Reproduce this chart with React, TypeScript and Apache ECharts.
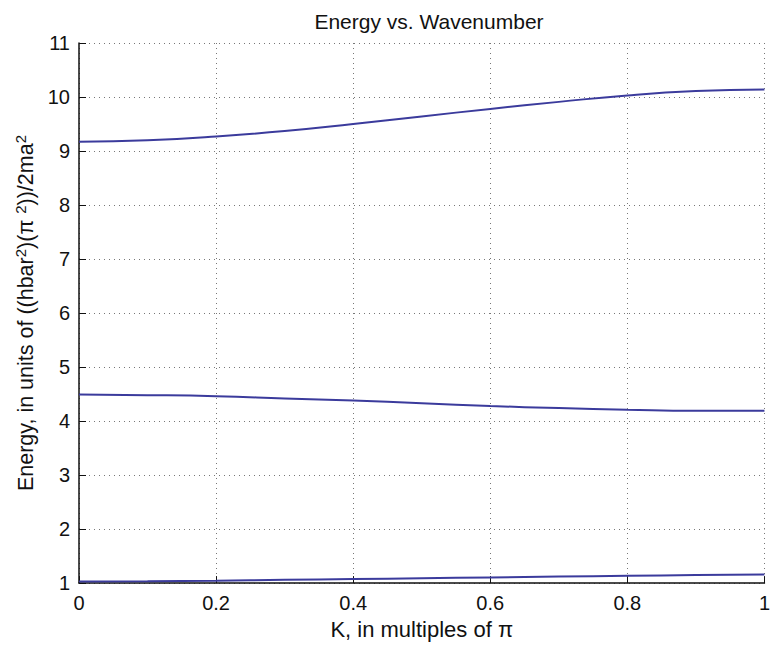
import React, { useEffect, useRef } from "react";
import * as echarts from "echarts";

const kValues = [0, 0.1, 0.2, 0.3, 0.4, 0.5, 0.6, 0.7, 0.8, 0.9, 1.0];
const band3 = [9.17, 9.2, 9.27, 9.37, 9.5, 9.64, 9.78, 9.91, 10.03, 10.11, 10.14];
const band2 = [4.49, 4.48, 4.46, 4.42, 4.38, 4.33, 4.28, 4.24, 4.21, 4.19, 4.19];
const band1 = [1.03, 1.035, 1.045, 1.06, 1.075, 1.09, 1.105, 1.12, 1.135, 1.15, 1.16];

const FONT = "'Liberation Sans', Arial, sans-serif";

export default function App() {
  const ref = useRef<HTMLDivElement>(null);
  useEffect(() => {
    if (!ref.current) return;
    const chart = echarts.init(ref.current, null, { renderer: "svg" });
    const mk = (vals: number[]) => ({
      type: "line",
      data: kValues.map((k, i) => [k, vals[i]]),
      smooth: true,
      showSymbol: false,
      lineStyle: { color: "#3b3b9c", width: 2 },
    });
    const grid = { color: "#777", type: [1, 4], width: 1 };
    chart.setOption({
      animation: false,
      backgroundColor: "#ffffff",
      textStyle: { fontFamily: FONT },
      title: {
        text: "Energy vs. Wavenumber",
        left: 424,
        top: 6,
        textAlign: "center",
        textStyle: { fontFamily: FONT, fontSize: 21, fontWeight: "normal", color: "#111" },
      },
      grid: { left: 79, right: 5, top: 43, bottom: 60 },
      xAxis: {
        type: "value",
        min: 0,
        max: 1,
        interval: 0.2,
        name: "K, in multiples of π",
        nameLocation: "middle",
        nameGap: 34,
        nameTextStyle: { fontFamily: FONT, fontSize: 22, color: "#111" },
        axisLine: { show: true, lineStyle: { color: "#111", width: 1.5 } },
        axisTick: { show: true, inside: true, length: 7, lineStyle: { color: "#111" } },
        axisLabel: { fontFamily: FONT, fontSize: 20, color: "#111", margin: 10 },
        splitLine: { show: true, lineStyle: grid },
      },
      yAxis: {
        type: "value",
        min: 1,
        max: 11,
        interval: 1,
        name: "Energy, in units of ((hbar{s|2})(π {s|2}))/2ma{s|2}",
        nameLocation: "middle",
        nameGap: 40,
        nameRotate: 90,
        nameTextStyle: {
          fontFamily: FONT,
          fontSize: 21.5,
          color: "#111",
          rich: { s: { fontFamily: FONT, fontSize: 15, color: "#111", verticalAlign: "top", padding: [0, 0, 10, 0] } },
        },
        axisLine: { show: true, lineStyle: { color: "#111", width: 1.5 } },
        axisTick: { show: true, inside: true, length: 7, lineStyle: { color: "#111" } },
        axisLabel: { fontFamily: FONT, fontSize: 20, color: "#111", margin: 9 },
        splitLine: { show: true, lineStyle: grid },
      },
      series: [mk(band3), mk(band2), mk(band1)],
    });
    return () => chart.dispose();
  }, []);
  return <div ref={ref} style={{ width: 773, height: 645, position: "absolute", left: 0, top: 0 }} />;
}
